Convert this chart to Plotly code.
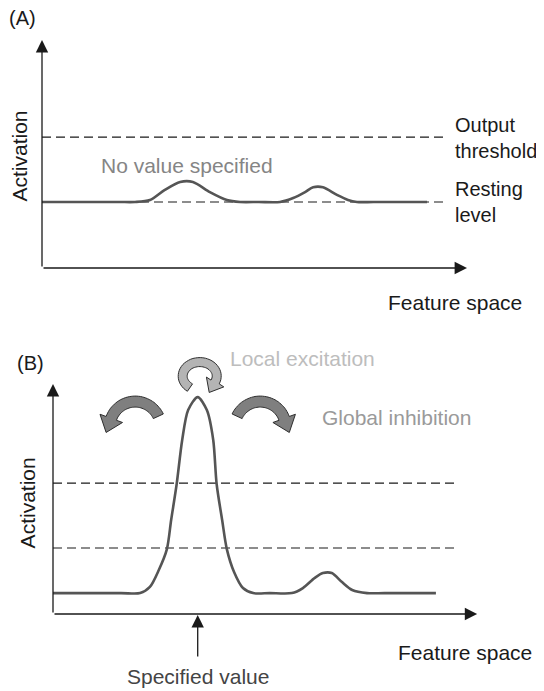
import numpy as np
import plotly.graph_objects as go

# Panel A: no input, two small sub-threshold bumps
a_x = [0, 18.0, 21.9, 25.4, 28.9, 32.5, 35.5, 39.5, 43.5, 46.6, 51.0,
       56.0, 59.1, 61.9, 63.8, 66.1, 69.4, 72.0, 74.1, 78.0, 90.6]
a_act = [3.0, 3.0, 3.0, 3.09, 3.55, 3.91, 3.91, 3.45, 3.09, 3.0, 3.0,
         3.0, 3.18, 3.45, 3.67, 3.67, 3.32, 3.09, 3.0, 3.0, 3.0]

# Panel B: specified value -> one self-stabilised peak
b_x = [0, 16.0, 20.5, 22.8, 24.9, 26.8, 27.8, 29.1, 30.4, 31.8, 34.05,
       36.2, 37.7, 38.5, 39.8, 40.9, 42.6, 44.7, 47.1, 51.0,
       56.2, 58.8, 61.6, 63.5, 65.6, 68.0, 70.4, 73.9, 78.0, 90.1]
b_act = [0.95, 0.95, 0.95, 1.23, 2.0, 2.95, 4.27, 5.91, 7.91, 9.27, 9.86,
         9.27, 7.91, 5.91, 4.27, 2.95, 1.91, 1.18, 0.95, 0.95,
         0.95, 1.18, 1.64, 1.86, 1.86, 1.45, 1.09, 0.95, 0.95, 0.95]

resting_level = 3.0
output_threshold = 5.95
level_end = 94.6
specified_value = 34.05
peak_b = (34.05, 9.86)

# page geometry (reference pixels); the browser body adds an 8px margin
PAGE_W, PAGE_H = 544, 691
OFF = 8
W, H = PAGE_W - OFF, PAGE_H - OFF
PX_X, PX_Y = 4.25, 22.0          # pixels per data unit
A_ORIGIN = (42, 268)              # page pixel of (0, 0) in panel A
B_ORIGIN = (53, 614)
SPLIT = 310                       # page row between the two panels

FONT = "Liberation Sans, Arial, sans-serif"
CURVE = "#555555"
INK = "#1a1a1a"


def arc_arrow(cx, cy, rx, ry, w, a0, a1, head_len, head_half, n=40):
    """Thick curved arrow as an svg path, in pixel offsets (y up)."""
    t = np.radians(np.linspace(a0, a1, n))
    outer = [(cx + (rx + w / 2) * np.cos(a), cy + (ry + w / 2) * np.sin(a)) for a in t]
    inner = [(cx + (rx - w / 2) * np.cos(a), cy + (ry - w / 2) * np.sin(a)) for a in t[::-1]]
    e = t[-1]
    s = 1 if a1 > a0 else -1
    dx, dy = -s * rx * np.sin(e), s * ry * np.cos(e)
    norm = np.hypot(dx, dy)
    dx, dy = dx / norm, dy / norm
    nx, ny = s * dy, -s * dx      # outward normal
    px, py = cx + rx * np.cos(e), cy + ry * np.sin(e)
    head = [(px + head_half * nx, py + head_half * ny),
            (px + head_len * dx, py + head_len * dy),
            (px - head_half * nx, py - head_half * ny)]
    pts = outer + head + inner
    return "M" + "L".join(f"{x:.1f},{y:.1f}" for x, y in pts) + "Z"


def axis_arrow(x, y, ax, ay, xref, yref):
    return dict(x=x, y=y, ax=ax, ay=ay, xref=xref, yref=yref, axref=xref, ayref=yref,
                text="", showarrow=True, arrowhead=2, arrowsize=1.9, arrowwidth=1.3,
                arrowcolor=INK, standoff=0)


def label(x, y, text, xref, yref, color=INK, xanchor="center", angle=0, size=21):
    return dict(x=x, y=y, xref=xref, yref=yref, text=text, showarrow=False,
                xanchor=xanchor, yanchor="middle", textangle=angle, align="left",
                font=dict(family=FONT, size=size, color=color))


fig = go.Figure()

for xs, ys, xa, ya in [(a_x, a_act, "x", "y"), (b_x, b_act, "x2", "y2")]:
    for level in (resting_level, output_threshold):
        fig.add_trace(go.Scatter(x=[0, level_end], y=[level] * 2, xaxis=xa, yaxis=ya,
                                 mode="lines", line=dict(color=INK, width=1.2, dash="9px,5px"),
                                 hoverinfo="skip"))
    fig.add_trace(go.Scatter(x=xs, y=ys, xaxis=xa, yaxis=ya, mode="lines",
                             line=dict(color=CURVE, width=2.6, shape="spline", smoothing=0.8),
                             hoverinfo="skip"))

annotations = [
    axis_arrow(0, 10.36, 0, 0, "x", "y"),
    axis_arrow(100, 0, 0, 0, "x", "y"),
    axis_arrow(0, 10.45, 0, 0, "x2", "y2"),
    axis_arrow(99.8, 0, 0, 0, "x2", "y2"),
    axis_arrow(specified_value, -0.05, specified_value, -2.0, "x2", "y2"),
    label(-4.6, 11.36, "(A)", "x", "y", size=20),
    label(-5.4, 5.07, "Activation", "x", "y", angle=-90),
    label(34.0, 4.64, "No value specified", "x", "y", color="#858585"),
    label(96.8, 5.93, "Output<br>threshold", "x", "y", xanchor="left", size=20),
    label(96.8, resting_level, "Resting<br>level", "x", "y", xanchor="left", size=20),
    label(97.2, -1.55, "Feature space", "x", "y"),
    label(-5.4, 11.4, "(B)", "x2", "y2", size=20),
    label(-5.9, 5.07, "Activation", "x2", "y2", angle=-90),
    label(41.2, 11.6, "Local excitation", "x2", "y2", color="#bdbdbd", xanchor="left"),
    label(62.8, 8.95, "Global inhibition", "x2", "y2", color="#9a9a9a", xanchor="left"),
    label(96.9, -1.73, "Feature space", "x2", "y2"),
    label(specified_value, -2.86, "Specified value", "x2", "y2", color="#444444"),
]

# interaction arrows around the peak, drawn in pixels relative to it
arrow_paths = [
    (arc_arrow(-62.5, -30, 25.5, 25.5, 11, 25, 160, 15, 12), "#7f7f7f"),
    (arc_arrow(62.5, -30, 25.5, 25.5, 11, 155, 20, 15, 12), "#7f7f7f"),
    (arc_arrow(2, 21, 17, 14, 9, 235, -25, 12, 10), "#b4b4b4"),
]
shapes = [dict(type="path", xref="x2", yref="y2", xsizemode="pixel", ysizemode="pixel",
               xanchor=peak_b[0], yanchor=peak_b[1], path=p, fillcolor=c,
               line=dict(color="#2e2e2e", width=1)) for p, c in arrow_paths]

# convert page pixels into figure pixels (figure starts at OFF, OFF)
ax_a, ay_a = A_ORIGIN[0] - OFF, A_ORIGIN[1] - OFF
ax_b, ay_b = B_ORIGIN[0] - OFF, B_ORIGIN[1] - OFF
split_px = SPLIT - OFF
split = 1 - split_px / H

fig.update_layout(
    width=W, height=H,
    margin=dict(l=0, r=0, t=0, b=0),
    paper_bgcolor="white", plot_bgcolor="white",
    showlegend=False,
    xaxis=dict(domain=[0, 1], range=[-ax_a / PX_X, (W - ax_a) / PX_X],
               visible=False, anchor="y"),
    yaxis=dict(domain=[split, 1], range=[(ay_a - split_px) / PX_Y, ay_a / PX_Y],
               visible=False, anchor="x"),
    xaxis2=dict(domain=[0, 1], range=[-ax_b / PX_X, (W - ax_b) / PX_X],
                visible=False, anchor="y2"),
    yaxis2=dict(domain=[0, split], range=[(ay_b - H) / PX_Y, (ay_b - split_px) / PX_Y],
                visible=False, anchor="x2"),
    annotations=annotations,
    shapes=shapes,
)

fig.write_html("out.html")
